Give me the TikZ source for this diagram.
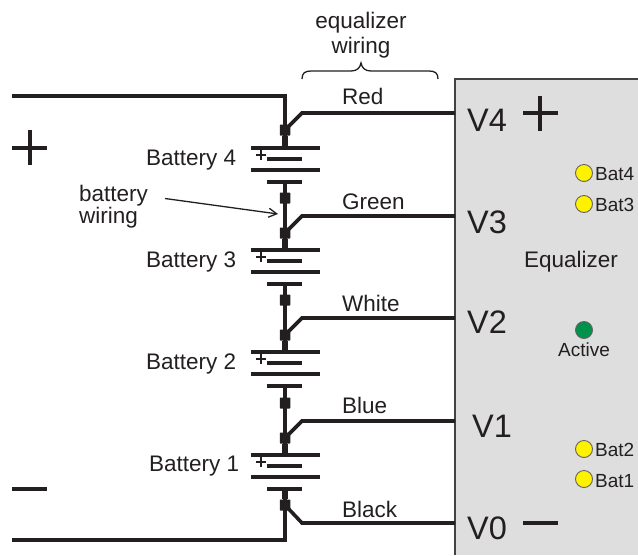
\documentclass[tikz,border=0pt]{standalone}
\usepackage{fontspec}
\usetikzlibrary{arrows.meta}
\setmainfont{Liberation Sans}
\definecolor{ink}{HTML}{231F20}
\definecolor{panel}{HTML}{DEDEDE}
\definecolor{ledy}{HTML}{FFF200}
\definecolor{ledg}{HTML}{00924A}
\tikzset{
  x=1pt,y=-1pt,
  wire/.style={draw=ink,line width=3.6pt,line join=miter},
  stub/.style={draw=ink,line width=5.5pt},
  plate/.style={draw=ink,line width=3.8pt},
  junction/.style={draw=none,fill=ink,minimum width=10.5pt,minimum height=11pt,inner sep=0pt,rounded corners=.6pt},
  lab/.style={text=ink,font=\fontsize{22.5}{22.5}\selectfont,inner sep=0pt,anchor=base west},
  labc/.style={lab,anchor=base},
  small/.style={text=ink,font=\fontsize{19}{19}\selectfont,inner sep=0pt,anchor=base west},
  port/.style={text=ink,font=\fontsize{32.5}{32.5}\selectfont,inner sep=0pt,anchor=base west},
  led/.style={circle,draw=ink!70,line width=.9pt,minimum size=17pt,inner sep=0pt},
  sign/.style={draw=ink,line width=4pt},
  thinw/.style={draw=ink,line width=1.3pt},
}
\newcommand{\batt}[1]{%
  \draw[plate] (251,#1) -- (320,#1);
  \draw[plate] (267,#1+11) -- (302,#1+11);
  \draw[plate] (251,#1+22) -- (320,#1+22);
  \draw[plate] (267,#1+34) -- (302,#1+34);
  \draw[draw=ink,line width=1.5pt] (256,#1+7) -- (266,#1+7) (261,#1+2) -- (261,#1+12);
}
\begin{document}
\begin{tikzpicture}
\useasboundingbox (0,0) rectangle (638,555);
% equalizer panel
\fill[panel] (455,79) rectangle (638,555);
\draw[draw=ink!85,line width=1.5pt] (455,555) -- (455,79) -- (638,79);
% junctions
\node[junction] (j4) at (285,130) {};
\node[junction] (s3) at (285,198) {};
\node[junction] (j3) at (285,233) {};
\node[junction] (s2) at (285,300) {};
\node[junction] (j2) at (285,335) {};
\node[junction] (s1) at (285,403) {};
\node[junction] (j1) at (285,438) {};
\node[junction] (j0) at (285,505) {};
% free ends
\coordinate (top) at (12,96);
\coordinate (topc) at (285,96);
\coordinate (bot) at (12,540);
\coordinate (botc) at (285,540);
\foreach \n/\y in {p4/148,n4/182,p3/250,n3/284,p2/352,n2/386,p1/455,n1/489}{\coordinate (\n) at (285,\y);}
% ports
\node[port] (V4) at (467,131) {V4};
\node[port] (V3) at (467,233) {V3};
\node[port] (V2) at (467,333) {V2};
\node[port] (V1) at (472,437) {V1};
\node[port] (V0) at (467,539) {V0};
\coordinate (e4) at (455,113);
\coordinate (e3) at (455,216);
\coordinate (e2) at (455,318);
\coordinate (e1) at (455,421);
\coordinate (e0) at (455,523);
% battery wiring
\draw[wire] (top) -- (topc) -- (p4);
\draw[wire] (n4) -- (p3);
\draw[wire] (n3) -- (p2);
\draw[wire] (n2) -- (p1);
\draw[wire] (n1) -- (botc) -- (bot);
\draw[stub] (j4) -- (p4);
\draw[stub] (j3) -- (p3);
\draw[stub] (j2) -- (p2);
\draw[stub] (j1) -- (p1);
\draw[stub] (n1) -- (j0);
% equalizer wiring
\draw[wire] (j4.center) -- (302,113) -- (e4);
\draw[wire] (j3.center) -- (302,216) -- (e3);
\draw[wire] (j2.center) -- (302,318) -- (e2);
\draw[wire] (j1.center) -- (302,421) -- (e1);
\draw[wire] (j0.center) -- (302,523) -- (e0);
% batteries
\batt{148}\batt{250}\batt{352}\batt{455}
% labels
\node[lab] (b4) at (146,165) {Battery 4};
\node[lab] (b3) at (146,267) {Battery 3};
\node[lab] (b2) at (146,369) {Battery 2};
\node[lab] (b1) at (149,471) {Battery 1};
\node[lab] (cr) at (342,104) {Red};
\node[lab] (cg) at (342,209) {Green};
\node[lab] (cw) at (342,311) {White};
\node[lab] (cb) at (342,413) {Blue};
\node[lab] (ck) at (342,517) {Black};
\node[labc] (w1) at (361,28) {equalizer};
\node[labc] (w2) at (361,53) {wiring};
\node[lab] (bw1) at (79,201) {battery};
\node[lab] (bw2) at (79,223) {wiring};
\coordinate (bwend) at (165,198.5);
\coordinate (bwtip) at (278,214);
\draw[thinw,-{Straight Barb[length=8pt,width=9pt]}] (bwend) -- (bwtip);
% brace
\draw[draw=ink,line width=1.3pt] (302,79) .. controls (302,73) and (305,71) .. (311,71) -- (351,71) .. controls (357,71) and (360,68) .. (361,63) .. controls (362,68) and (365,71) .. (371,71) -- (429,71) .. controls (435,71) and (438,73) .. (438,79);
% signs
\draw[sign] (12,148) -- (47,148) (29.5,130) -- (29.5,165);
\draw[sign] (12,489) -- (47,489);
\draw[sign] (523,113) -- (558,113) (540,96) -- (540,131);
\draw[sign] (523,523) -- (558,523);
% LEDs
\node[led,fill=ledy] (l4) at (584,173) {};
\node[led,fill=ledy] (l3) at (584,204) {};
\node[led,fill=ledy] (l2) at (584,449) {};
\node[led,fill=ledy] (l1) at (584,479) {};
\node[led,fill=ledg] (la) at (584,330) {};
\node[small] (t4) at (595,180) {Bat4};
\node[small] (t3) at (595,211) {Bat3};
\node[small] (t2) at (595,456) {Bat2};
\node[small] (t1) at (595,487) {Bat1};
\node[small] (ta) at (558,356) {Active};
\node[lab] (eq) at (524,267) {Equalizer};
\end{tikzpicture}
\end{document}
